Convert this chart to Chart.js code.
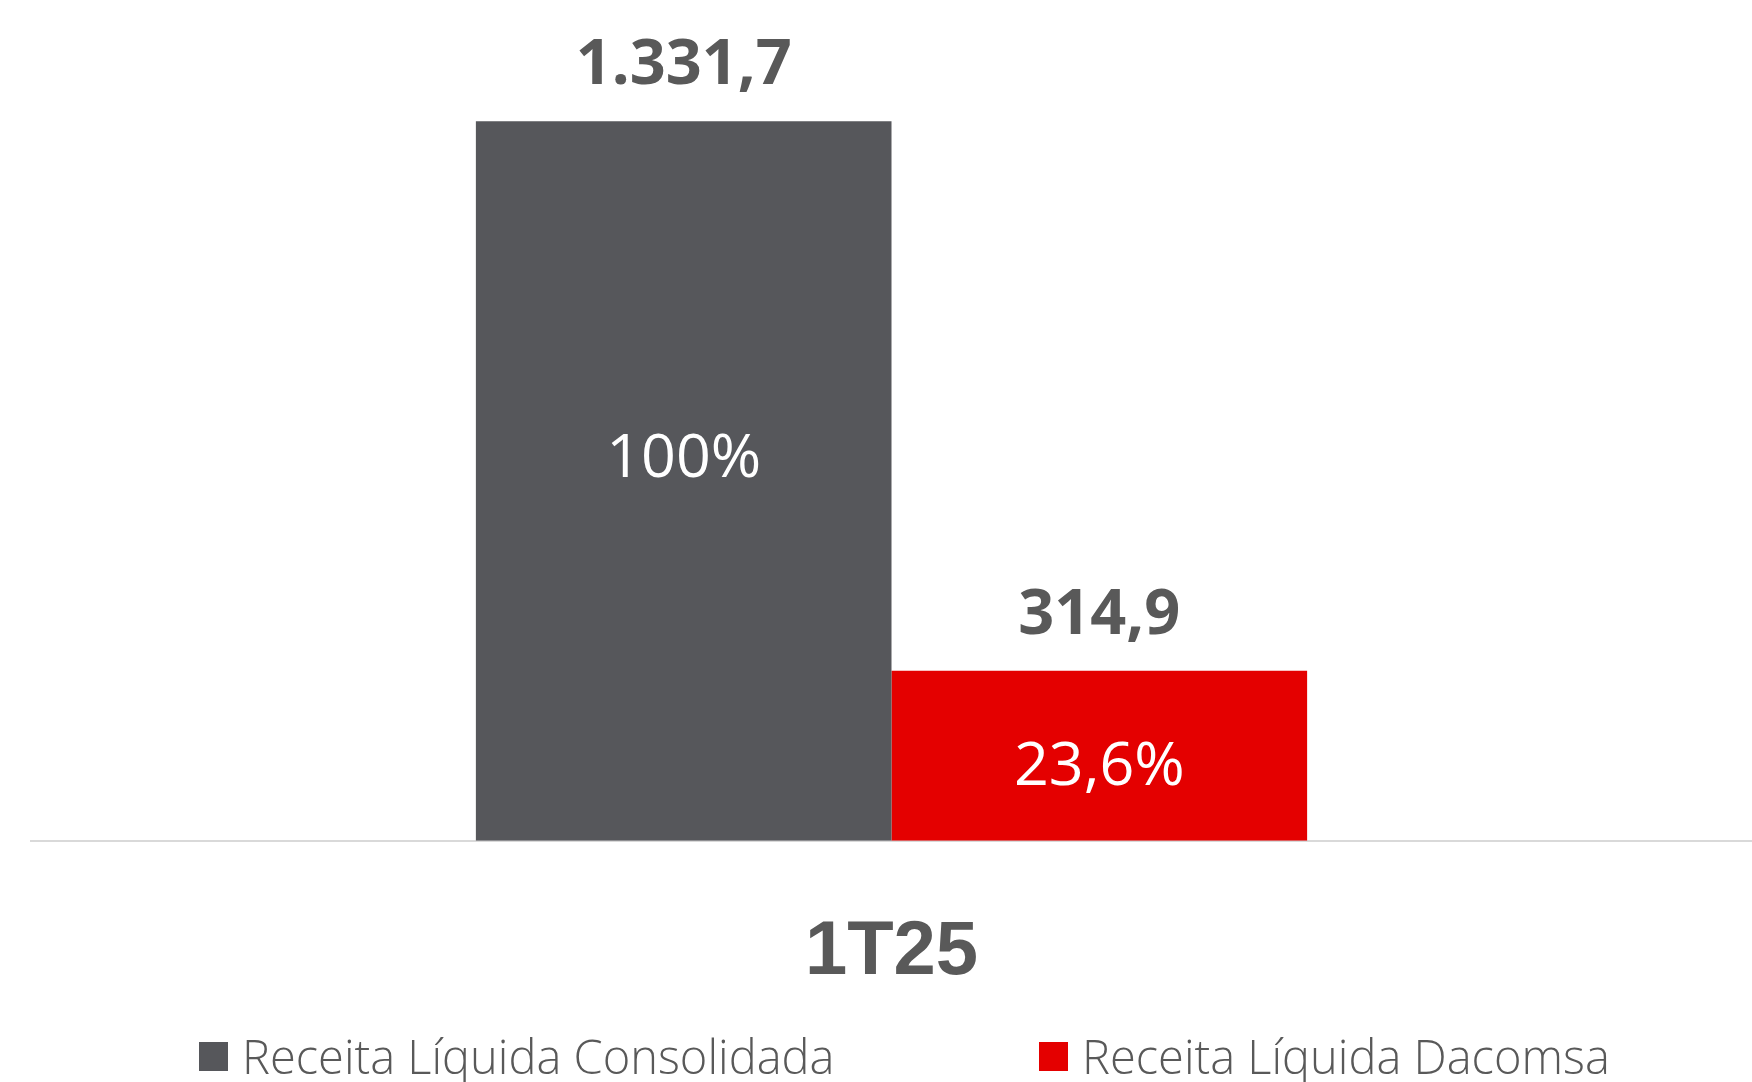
<!DOCTYPE html>
<html>
<head>
<meta charset="utf-8">
<script src="https://cdn.jsdelivr.net/npm/chart.js@4.4.1/dist/chart.umd.min.js"></script>
<style>
  html, body { margin: 0; padding: 0; background: #ffffff; }
  #wrap { position: relative; width: 1752px; height: 1082px; overflow: hidden; }
  #grafico { position: absolute; left: 0; top: 0; }
  #legenda { position: absolute; left: 0; top: 0; width: 1752px; height: 1082px; pointer-events: none; }
  .item { position: absolute; display: flex; align-items: center; white-space: nowrap;
          font-family: "Open Sans", sans-serif; font-weight: 300; font-size: 47px; color: #595959; }
  .box { width: 29px; height: 29px; margin-right: 14px; }
</style>
</head>
<body>
<div id="wrap">
  <canvas id="grafico" width="1752" height="1082"></canvas>
  <div id="legenda"></div>
</div>
<script>
const categorias = ["1T25"];
const series = ["Receita Líquida Consolidada", "Receita Líquida Dacomsa"];
const valores = [[1331.7], [314.9]];
const percentuais = [["100%"], ["23,6%"]];
const cores = ["#56575B", "#E40000"];

function formatBR(v) {
  const partes = v.toFixed(1).split(".");
  const inteiro = partes[0].replace(/\B(?=(\d{3})+(?!\d))/g, ".");
  return inteiro + "," + partes[1];
}

// rótulos: valor acima da barra e percentual dentro
const rotulosPlugin = {
  id: "rotulos",
  afterDatasetsDraw(chart, args, opts) {
    const ctx = chart.ctx;
    chart.data.datasets.forEach((ds, i) => {
      const meta = chart.getDatasetMeta(i);
      meta.data.forEach((bar, j) => {
        ctx.save();
        ctx.textAlign = "center";
        ctx.textBaseline = "alphabetic";
        ctx.fillStyle = "#595959";
        ctx.font = "bold 63px 'Open Sans', sans-serif";
        ctx.fillText(formatBR(ds.data[j]), bar.x, bar.y - 37);

        ctx.textBaseline = "middle";
        ctx.fillStyle = "#ffffff";
        ctx.font = "400 61px 'Open Sans', sans-serif";
        const y = bar.y + (bar.base - bar.y) * opts.posicao[i];
        ctx.fillText(percentuais[i][j], bar.x, y);
        ctx.restore();
      });
    });
  }
};

const ctx = document.getElementById("grafico").getContext("2d");
const grafico = new Chart(ctx, {
  type: "bar",
  data: {
    labels: categorias,
    datasets: series.map((nome, i) => ({
      label: nome,
      data: valores[i],
      backgroundColor: cores[i],
      borderWidth: 0,
      categoryPercentage: 0.483,
      barPercentage: 1.0
    }))
  },
  options: {
    responsive: false,
    animation: false,
    layout: { padding: { left: 31, right: 0, top: 0, bottom: 16 } },
    plugins: {
      legend: { display: false },
      tooltip: { enabled: false },
      rotulos: { posicao: [0.47, 0.57] }
    },
    scales: {
      x: {
        grid: { display: true, drawOnChartArea: false, drawTicks: false },
        border: { display: true, color: "#D9D9D9", width: 2 },
        ticks: {
          color: "#595959",
          padding: 67,
          font: { family: "'Liberation Sans', Arial, sans-serif", weight: "bold", size: 76 }
        }
      },
      y: {
        display: false,
        min: 0,
        max: 1556
      }
    }
  },
  plugins: [rotulosPlugin]
});

// legenda
const legenda = document.getElementById("legenda");
const posLegenda = [199, 1039];
series.forEach((nome, i) => {
  const item = document.createElement("div");
  item.className = "item";
  item.style.left = posLegenda[i] + "px";
  item.style.top = "1024px";
  const box = document.createElement("span");
  box.className = "box";
  box.style.background = cores[i];
  const txt = document.createElement("span");
  txt.textContent = nome;
  item.appendChild(box);
  item.appendChild(txt);
  legenda.appendChild(item);
});
</script>
</body>
</html>
